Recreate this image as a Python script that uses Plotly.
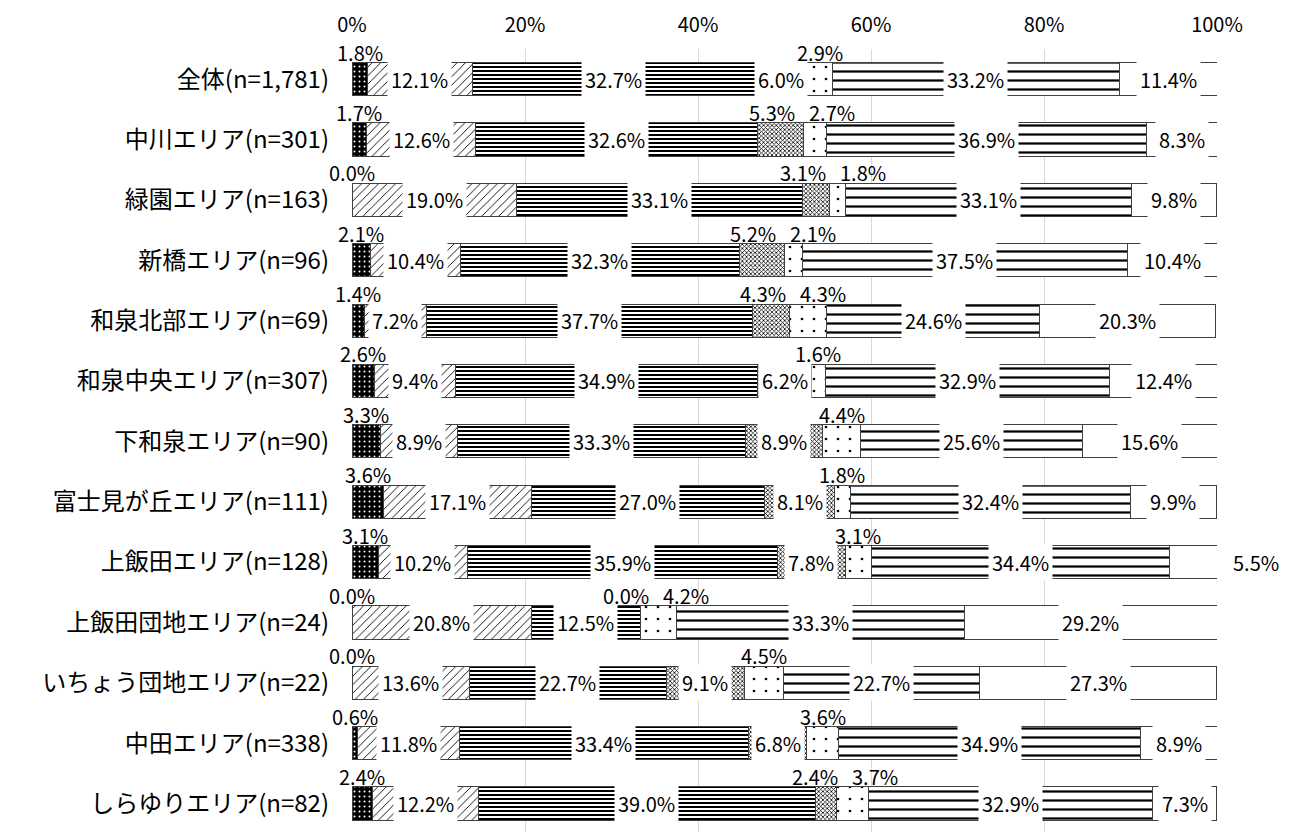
import plotly.graph_objects as go

areas = ["全体(n=1,781)", "中川エリア(n=301)", "緑園エリア(n=163)", "新橋エリア(n=96)",
         "和泉北部エリア(n=69)", "和泉中央エリア(n=307)", "下和泉エリア(n=90)",
         "富士見が丘エリア(n=111)", "上飯田エリア(n=128)", "上飯田団地エリア(n=24)",
         "いちょう団地エリア(n=22)", "中田エリア(n=338)", "しらゆりエリア(n=82)"]

seg1 = [1.8, 1.7, 0.0, 2.1, 1.4, 2.6, 3.3, 3.6, 3.1, 0.0, 0.0, 0.6, 2.4]
seg2 = [12.1, 12.6, 19.0, 10.4, 7.2, 9.4, 8.9, 17.1, 10.2, 20.8, 13.6, 11.8, 12.2]
seg3 = [32.7, 32.6, 33.1, 32.3, 37.7, 34.9, 33.3, 27.0, 35.9, 12.5, 22.7, 33.4, 39.0]
seg4 = [6.0, 5.3, 3.1, 5.2, 4.3, 6.2, 8.9, 8.1, 7.8, 0.0, 9.1, 6.8, 2.4]
seg5 = [2.9, 2.7, 1.8, 2.1, 4.3, 1.6, 4.4, 1.8, 3.1, 4.2, 4.5, 3.6, 3.7]
seg6 = [33.2, 36.9, 33.1, 37.5, 24.6, 32.9, 25.6, 32.4, 34.4, 33.3, 22.7, 34.9, 32.9]
seg7 = [11.4, 8.3, 9.8, 10.4, 20.3, 12.4, 15.6, 9.9, 5.5, 29.2, 27.3, 8.9, 7.3]

ticks = [0, 20, 40, 60, 80, 100]
tick_labels = ["0%", "20%", "40%", "60%", "80%", "100%"]

series = [seg1, seg2, seg3, seg4, seg5, seg6, seg7]

# pattern per segment: (shape, bg, fg, size, solidity)
patterns = [
    (".", "black", "white", 5, 0.12),
    ("/", "white", "black", 6, 0.15),
    ("-", "white", "black", 4, 0.5),
    ("x", "white", "black", 3, 0.45),
    (".", "white", "black", 12, 0.04),
    ("-", "white", "black", 9, 0.25),
    ("", "white", "black", 8, 0.2),
]

FONT = "Noto Sans CJK JP"
# plot area in figure coords (page body adds 8px)
x0, x1 = 344, 1209
px_per = (x1 - x0) / 100.0
LBL = 20

fig = go.Figure()
for vals, (shape, bg, fg, size, sol) in zip(series, patterns):
    fig.add_bar(
        y=areas, x=vals, orientation="h",
        marker=dict(color=bg, line=dict(color="#404040", width=1),
                    pattern=dict(shape=shape, bgcolor=bg, fgcolor=fg, size=size,
                                 solidity=sol, fillmode="replace")),
        hoverinfo="x+y", showlegend=False,
    )

annotations = []
for i, area in enumerate(areas):
    left = 0.0
    above = []
    for k, vals in enumerate(series):
        v = vals[i]
        c = left + v / 2
        txt = f"{v:.1f}%"
        if k in (0, 4) or (k == 3 and v < 6.0):
            above.append([k, c, txt])
        elif k == 6 and v < 6.0:
            annotations.append(dict(x=100, y=area, text=txt, showarrow=False,
                                    xanchor="left", xshift=14,
                                    font=dict(size=LBL, family=FONT, color="black")))
        else:
            annotations.append(dict(x=c, y=area, text=txt, showarrow=False,
                                    bgcolor="white", borderpad=3,
                                    font=dict(size=LBL, family=FONT, color="black")))
        left += v
    # spread overlapping labels above the bar (seg 4 / seg 5)
    shifts = [0.0] * len(above)
    for j in range(1, len(above)):
        if above[j - 1][0] == 3 and above[j][0] == 4:
            dist = (above[j][1] - above[j - 1][1]) * px_per
            if dist < 60:
                d = 60 - dist
                shifts[j - 1] = -d / 3
                shifts[j] = 2 * d / 3
    for (k, c, txt), s in zip(above, shifts):
        annotations.append(dict(x=c, y=area, text=txt, showarrow=False,
                                xshift=s, yshift=27,
                                font=dict(size=LBL, family=FONT, color="black")))

fig.update_layout(
    width=1292, height=879,
    barmode="stack", bargap=0.45,
    plot_bgcolor="white", paper_bgcolor="white",
    margin=dict(l=x0, r=1292 - x1, t=41, b=40),
    font=dict(family=FONT, color="black"),
    annotations=annotations,
    xaxis=dict(range=[0, 100], side="top", tickvals=ticks, ticktext=tick_labels,
               showgrid=True, gridcolor="#d9d9d9", gridwidth=1, automargin=False,
               zeroline=False, showline=False, tickfont=dict(size=20, family=FONT),
               ticks="", ticklabelstandoff=12),
    yaxis=dict(autorange="reversed", tickfont=dict(size=24, family=FONT),
               showgrid=False, showline=False, ticks="", ticklabelstandoff=22,
               automargin=False),
)

fig.write_html("out.html")
